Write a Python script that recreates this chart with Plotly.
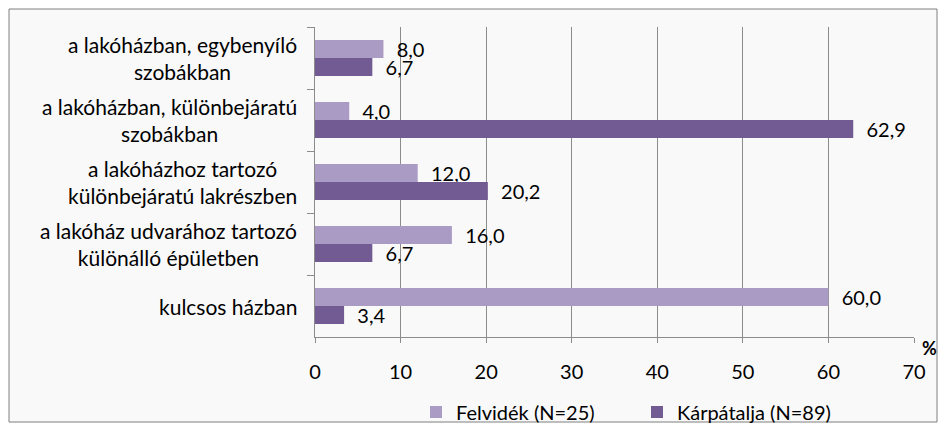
import plotly.graph_objects as go

categories = [
    "a lakóházban, egybenyíló<br>szobákban",
    "a lakóházban, különbejáratú<br>szobákban",
    "a lakóházhoz tartozó<br>különbejáratú lakrészben",
    "a lakóház udvarához tartozó<br>különálló épületben",
    "kulcsos házban",
]
felvidek = [8.0, 4.0, 12.0, 16.0, 60.0]
karpatalja = [6.7, 62.9, 20.2, 6.7, 3.4]
series_names = ["Felvidék (N=25)", "Kárpátalja (N=89)"]
x_ticks = [0, 10, 20, 30, 40, 50, 60, 70]

W, H = 944, 427
L, R, T, B = 315, 30, 27, 90
pw, ph = W - L - R, H - T - B

def px_x(p):
    return (p - L) / pw

def px_y(p):
    return (H - B - p) / ph

FONT = "Lato, 'Open Sans', sans-serif"
FS = 20
fig = go.Figure()
for name, vals, col in [(series_names[0], felvidek, "#A99BC3"),
                        (series_names[1], karpatalja, "#725A92")]:
    fig.add_trace(go.Bar(
        y=categories, x=vals, name=name, orientation="h",
        marker=dict(color=col, line=dict(width=0)),
        texttemplate="  %{x:.1f}", textposition="outside",
        constraintext="none",
        textfont=dict(size=FS, color="#000000", family=FONT),
        cliponaxis=False,
    ))

# border / background
fig.add_shape(type="rect", xref="paper", yref="paper",
              x0=px_x(9), x1=px_x(937), y0=px_y(422), y1=px_y(9),
              line=dict(color="#7f7f7f", width=1), fillcolor="#F9F9F9",
              layer="below")

# category labels (centered lines)
for c in categories:
    fig.add_annotation(x=px_x(299), xref="paper", y=c, yref="y",
                       text=c, showarrow=False, xanchor="right", yanchor="middle",
                       align="center", font=dict(size=21, family=FONT, color="#000000"))

fig.add_annotation(x=px_x(930), y=px_y(348), xref="paper", yref="paper",
                   text="<b>%</b>", showarrow=False, xanchor="center", yanchor="middle",
                   font=dict(size=18, family=FONT, color="#000000"))

fig.update_layout(
    width=W, height=H,
    margin=dict(l=L, r=R, t=T, b=B, pad=0, autoexpand=False),
    barmode="group", bargap=0.42, bargroupgap=0,
    separators=", ",
    paper_bgcolor="#FFFFFF", plot_bgcolor="rgba(0,0,0,0)",
    font=dict(family=FONT, size=FS, color="#000000"),
    showlegend=True,
    legend=dict(orientation="h", x=px_x(416), xanchor="left",
                y=px_y(412), yanchor="middle",
                entrywidth=176, entrywidthmode="pixels",
                font=dict(size=FS, family=FONT), traceorder="normal",
                itemsizing="constant", bgcolor="rgba(0,0,0,0)"),
    xaxis=dict(range=[0, 70], tickvals=x_ticks, showgrid=True,
               gridcolor="#8c8c8c", gridwidth=1, zeroline=False,
               showline=True, linecolor="#8c8c8c", ticks="outside",
               ticklen=5, tickcolor="#8c8c8c", tickfont=dict(size=FS),
               ticklabelstandoff=12, automargin=False),
    yaxis=dict(autorange="reversed", showticklabels=False,
               showline=True, linecolor="#8c8c8c", ticks="outside",
               tickson="boundaries", ticklen=7, tickcolor="#8c8c8c",
               showgrid=False, automargin=False),
)

fig.write_html("out.html", config={"displayModeBar": False},
               post_script="document.body.style.margin='0';document.body.style.padding='0';")
